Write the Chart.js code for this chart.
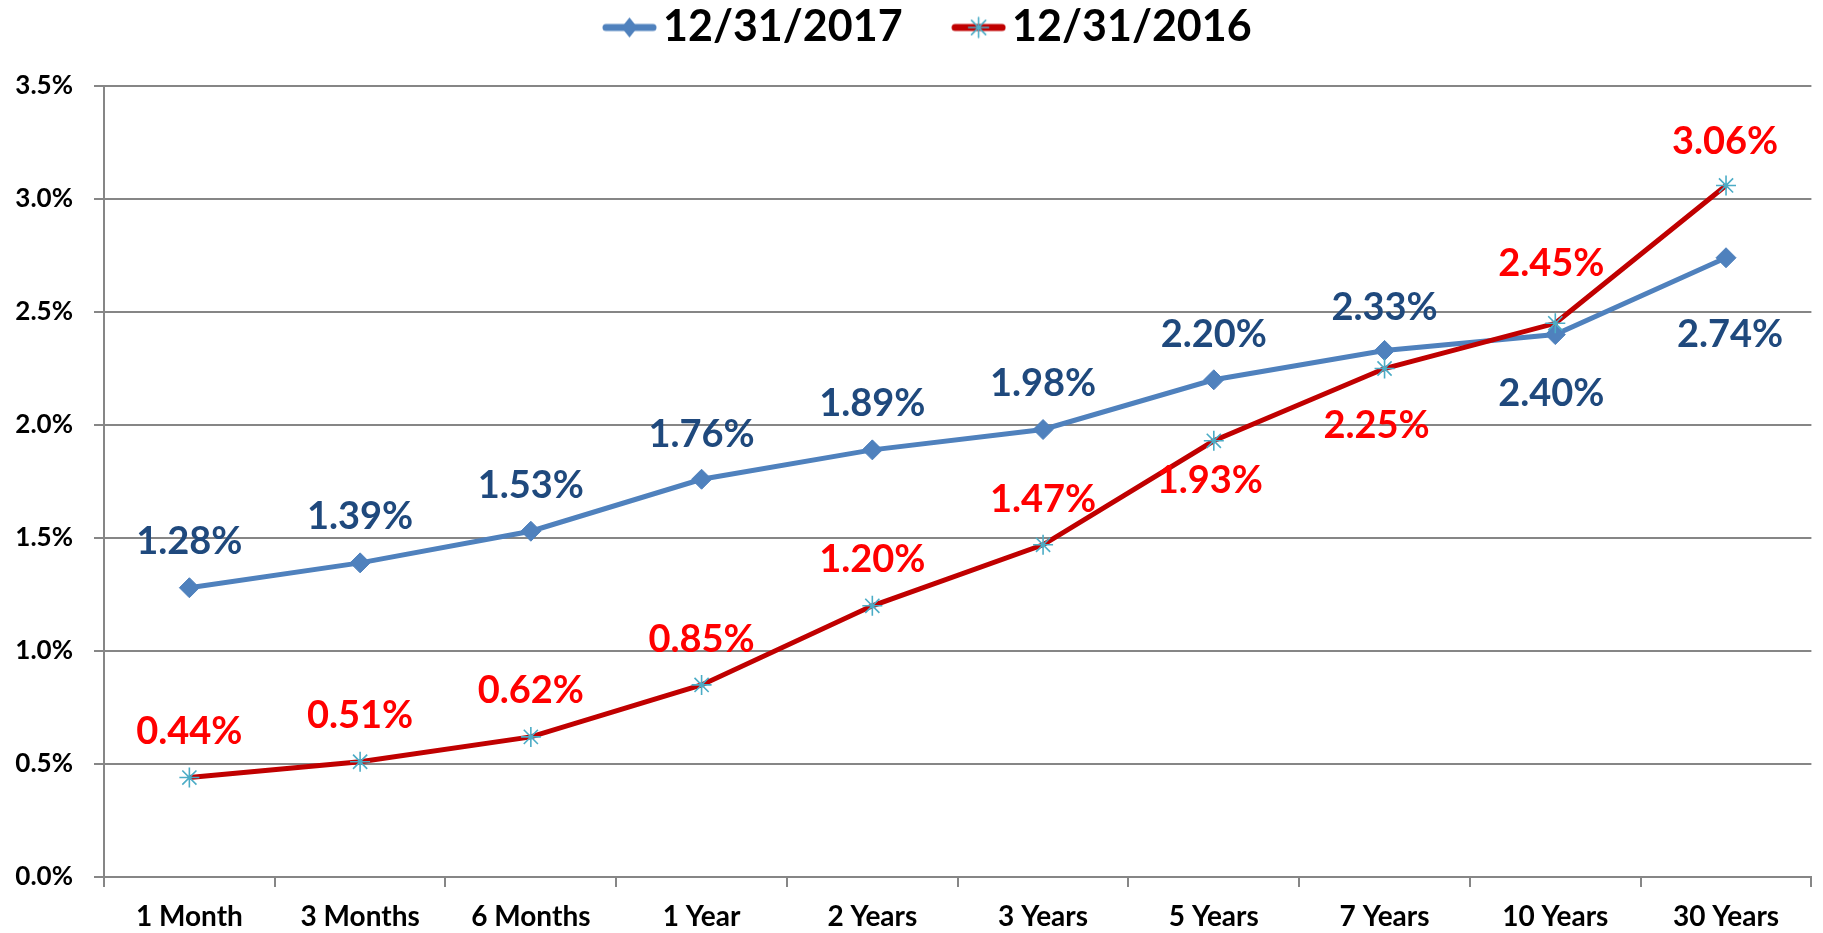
<!DOCTYPE html>
<html><head><meta charset="utf-8">
<script src="https://cdn.jsdelivr.net/npm/chart.js@4.4.1/dist/chart.umd.min.js"></script>
<style>html,body{margin:0;padding:0;background:#fff;overflow:hidden}#wrap{width:1823px;height:933px;position:relative}</style>
</head><body><div id="wrap"><canvas id="c" width="1823" height="933"></canvas></div>
<script>
// ---- data ----
const categories = ['1 Month','3 Months','6 Months','1 Year','2 Years','3 Years','5 Years','7 Years','10 Years','30 Years'];
const seriesNames = ['12/31/2017','12/31/2016'];
const yields2017 = [1.28,1.39,1.53,1.76,1.89,1.98,2.20,2.33,2.40,2.74];
const yields2016 = [0.44,0.51,0.62,0.85,1.20,1.47,1.93,2.25,2.45,3.06];
const yTickValues = [0,0.5,1.0,1.5,2.0,2.5,3.0,3.5];

// ---- styling ----
const FONT = "Lato, 'Open Sans', sans-serif";
const blueLine = '#4F81BD', blueText = '#1F497D';
const redLine = '#C00000', redText = '#FF0000', starColor = '#4BACC6';
const gridColor = '#868686';
// label offsets (pixels relative to point) — label placement style
const labelDy2017 = [-47,-47,-47,-46,-47,-47,-46,-44,58,76];
const labelDx2017 = [0,0,0,0,0,0,0,0,-4,4];
const labelDy2016 = [-47,-47,-47,-47,-47,-46,39,56,-61,-45];
const labelDx2016 = [0,0,0,0,0,0,-4,-8,-4,-1];
const labelStyles = [
  {color: blueText, size: 38, dx: labelDx2017, dy: labelDy2017},
  {color: redText, size: 38, dx: labelDx2016, dy: labelDy2016}
];

function drawDiamond(g, x, y, rx, ry) {
  g.fillStyle = blueLine;
  g.beginPath(); g.moveTo(x - rx, y); g.lineTo(x, y - ry); g.lineTo(x + rx, y); g.lineTo(x, y + ry); g.closePath(); g.fill();
}
function drawStar(g, x, y, r) {
  g.strokeStyle = starColor; g.lineWidth = 1.6;
  g.beginPath();
  g.moveTo(x, y - r); g.lineTo(x, y + r);
  g.moveTo(x - r, y); g.lineTo(x + r, y);
  const d = r * Math.SQRT1_2;
  g.moveTo(x - d, y - d); g.lineTo(x + d, y + d);
  g.moveTo(x - d, y + d); g.lineTo(x + d, y - d);
  g.stroke();
}
function legendSwatch(lineColor, marker, transparentLeft, visibleLen) {
  const c = document.createElement('canvas');
  c.width = transparentLeft + visibleLen; c.height = 26;
  const g = c.getContext('2d');
  g.strokeStyle = lineColor; g.lineWidth = 7; g.lineCap = 'round';
  g.beginPath(); g.moveTo(transparentLeft + 4, 13); g.lineTo(c.width - 4, 13); g.stroke();
  marker(g, transparentLeft + visibleLen / 2, 13);
  return c;
}
const swatch2017 = legendSwatch(blueLine, (g, x, y) => drawDiamond(g, x, y, 8, 10), 58, 55);
const swatch2016 = legendSwatch(redLine, (g, x, y) => drawStar(g, x, y, 10), 58, 55);

const legendPlacer = {
  id: 'legendPlacer',
  afterInit(chart) {
    const lg = chart.legend;
    const fit = lg.fit;
    lg.fit = function () { fit.call(this); this.height = 86; };
  },
  afterLayout(chart) {
    const lg = chart.legend;
    const p = lg.options.labels.padding;
    const x1 = (lg.left + p + lg.right - lg.lineWidths[0]) / 2;
    const shift = 559.5 - x1;
    lg.left += shift; lg.right += shift;
  }
};

const valueLabels = {
  id: 'valueLabels',
  afterDatasetsDraw(chart) {
    const ctx = chart.ctx;
    chart.data.datasets.forEach((ds, di) => {
      const meta = chart.getDatasetMeta(di);
      const st = labelStyles[di];
      ctx.save();
      ctx.font = `bold ${st.size}px ${FONT}`;
      ctx.fillStyle = st.color;
      ctx.textAlign = 'center';
      ctx.textBaseline = 'alphabetic';
      meta.data.forEach((el, i) => {
        const v = ds.data[i];
        ctx.fillText(v.toFixed(2) + '%', el.x + st.dx[i], el.y + st.dy[i] + st.size * 0.358);
      });
      ctx.restore();
    });
  }
};

new Chart(document.getElementById('c'), {
  type: 'line',
  data: {
    labels: categories,
    datasets: [
      {
        label: seriesNames[0], data: yields2017, order: 1,
        borderColor: blueLine, borderWidth: 5, tension: 0,
        pointStyle: 'rectRot', pointRadius: 10, pointHoverRadius: 10,
        pointBackgroundColor: blueLine, pointBorderColor: blueLine, pointBorderWidth: 1
      },
      {
        label: seriesNames[1], data: yields2016, order: 0,
        borderColor: redLine, borderWidth: 5, tension: 0,
        pointStyle: 'star', pointRadius: 10, pointHoverRadius: 10,
        pointBackgroundColor: starColor, pointBorderColor: starColor, pointBorderWidth: 1.6
      }
    ]
  },
  options: {
    responsive: false,
    animation: false,
    events: [],
    layout: { padding: { left: 0, right: 4, top: 0, bottom: 0 } },
    plugins: {
      tooltip: { enabled: false },
      legend: {
        display: true, position: 'top', align: 'center',
        labels: {
          usePointStyle: true, pointStyleWidth: 82, padding: 6,
          color: '#000',
          font: { family: FONT, weight: 'bold', size: 43 },
          generateLabels: () => [
            { text: seriesNames[0], pointStyle: swatch2017, fillStyle: blueLine, strokeStyle: blueLine, lineWidth: 0, hidden: false, datasetIndex: 0, fontColor: '#000' },
            { text: seriesNames[1], pointStyle: swatch2016, fillStyle: redLine, strokeStyle: redLine, lineWidth: 0, hidden: false, datasetIndex: 1, fontColor: '#000' }
          ]
        }
      }
    },
    scales: {
      x: {
        type: 'category', offset: true,
        grid: { display: true, drawOnChartArea: false, drawTicks: true, tickLength: 10, color: gridColor, lineWidth: 2, offset: true },
        border: { display: true, color: gridColor, width: 2 },
        ticks: { color: '#000', font: { family: FONT, weight: 'bold', size: 28 }, padding: 13, maxRotation: 0, autoSkip: false },
        afterFit(scale) { scale.height = 56; }
      },
      y: {
        min: 0, max: 3.5,
        afterBuildTicks(scale) { scale.ticks = yTickValues.map(v => ({ value: v })); },
        grid: { color: gridColor, lineWidth: 2, drawTicks: true, tickLength: 10 },
        border: { display: true, color: gridColor, width: 2 },
        ticks: { color: '#000', font: { family: FONT, weight: 'bold', size: 26 }, padding: 21,
          callback: v => Number(v).toFixed(1) + '%' },
        afterFit(scale) { scale.width = 104; }
      }
    }
  },
  plugins: [legendPlacer, valueLabels]
});
</script>
</body></html>
